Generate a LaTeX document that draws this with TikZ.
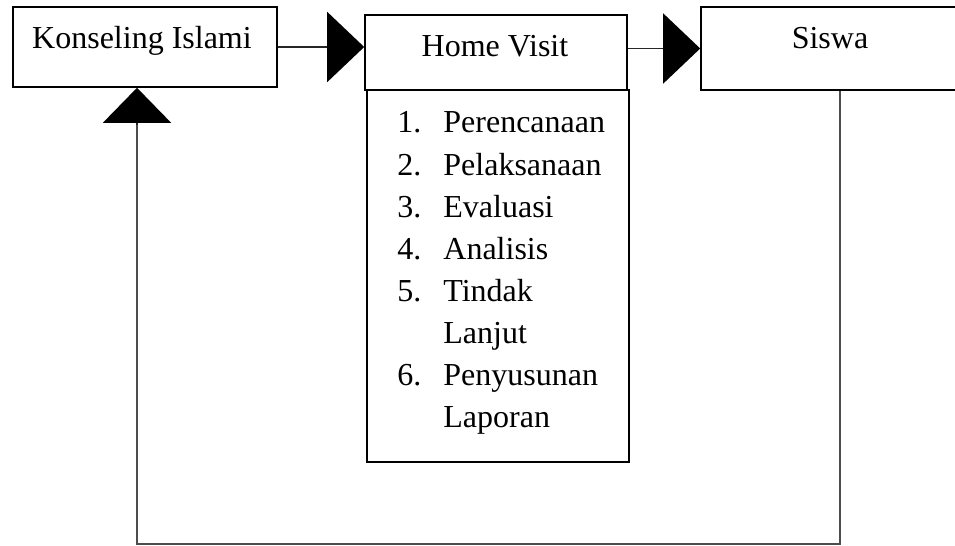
\documentclass[tikz,border=0pt]{standalone}
\usepackage{fontspec}
\setmainfont{Liberation Serif}
\usetikzlibrary{arrows.meta}
\begin{document}
\begin{tikzpicture}[x=0.5pt,y=-0.5pt,
  box/.style={draw=black,line width=0.8pt,rectangle,inner sep=0pt},
  lbl/.style={inner sep=0pt,font=\fontsize{16}{19}\selectfont},
  conn/.style={line width=0.8pt,draw=black!85},
  loopline/.style={line width=1.1pt,draw=black!70},
  tiph/.style={-{Triangle[length=18.5pt,width=35pt,color=black]}},
  tipv/.style={-{Triangle[length=17.5pt,width=34pt,color=black]}}]
\useasboundingbox (0,0) rectangle (955,546);
\clip (0,0) rectangle (955,546);
% boxes
\node[box,minimum width=132pt,minimum height=40pt] (ki) at (145,47) {};
\node[box,minimum width=131pt,minimum height=37.5pt] (hv) at (496,52.5) {};
\node[box,minimum width=131pt,minimum height=186pt] (ls) at (498,276) {};
\node[box,minimum width=135pt,minimum height=41.5pt] (sw) at (836,48.5) {};
% titles
\node[lbl,anchor=base] (kit) at (142,48) {Konseling Islami};
\node[lbl,anchor=base] (hvt) at (495,56) {Home Visit};
\node[lbl,anchor=base] (swt) at (830,48) {Siswa};
% list
\foreach \n/\t/\y [count=\i] in {1./Perencanaan/133,2./Pelaksanaan/175,3./Evaluasi/217,4./Analisis/259,5./Tindak/301,/Lanjut/343,6./Penyusunan/385,/Laporan/427}{
  \node[lbl,anchor=base west] (num\i) at (397,\y) {\n};
  \node[lbl,anchor=base west] (item\i) at (443,\y) {\t};
}
% connectors
\draw[conn,tiph] (ki.east) -- (ki.east -| hv.west);
\draw[conn,tiph] (sw.west -| hv.east) -- (sw.west);
\coordinate (c1) at (840,544);
\coordinate (c2) at (137,544);
\draw[loopline] (sw.south -| c1) -- (c1) -- (c2) -- (c2 |- 0,122);
\draw[conn,tipv] (c2 |- 0,125) -- (c2 |- ki.south);
\end{tikzpicture}
\end{document}
